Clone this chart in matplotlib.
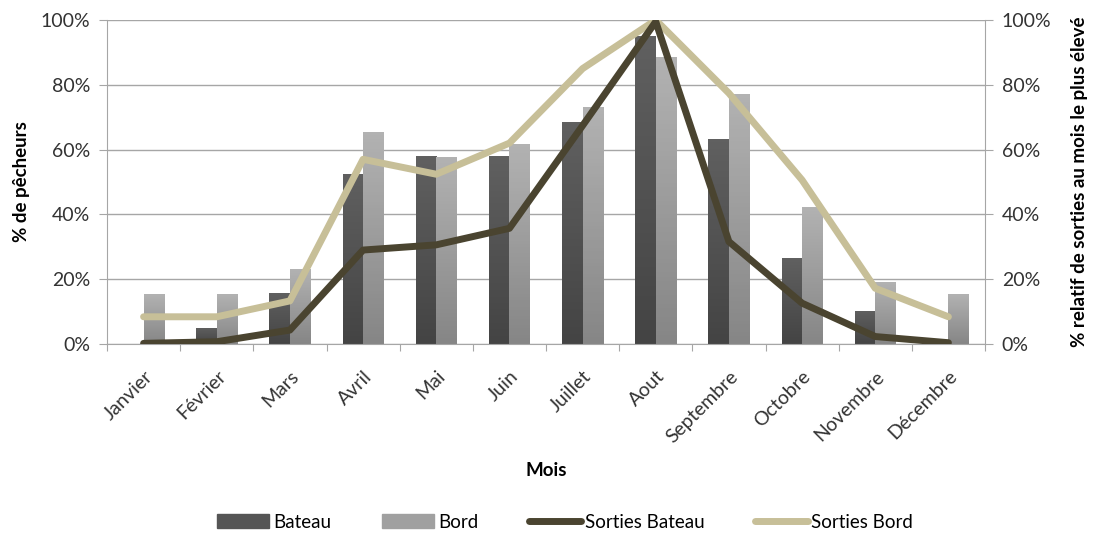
import numpy as np
import matplotlib
matplotlib.use("Agg")
import matplotlib.pyplot as plt
from matplotlib.colors import LinearSegmentedColormap
from matplotlib.ticker import FuncFormatter
from matplotlib.lines import Line2D
from matplotlib.patches import Patch

plt.rcParams['font.family'] = ['Lato', 'DejaVu Sans']

mois = ["Janvier", "Février", "Mars", "Avril", "Mai", "Juin", "Juillet",
        "Aout", "Septembre", "Octobre", "Novembre", "Décembre"]
bateau = [0, 5.0, 15.7, 52.5, 58.0, 58.0, 68.6, 95.2, 63.2, 26.4, 10.2, 0]
bord = [15.3, 15.3, 23.1, 65.3, 57.6, 61.6, 73.0, 88.5, 77.1, 42.2, 19.0, 15.3]
sorties_bateau = [0.2, 0.7, 4.3, 29.0, 30.6, 35.7, 67.4, 99.5, 31.6, 12.6, 2.3, 0.4]
sorties_bord = [8.4, 8.4, 13.3, 57.0, 52.4, 62.0, 85.0, 100.0, 77.4, 50.6, 17.2, 8.4]

fig = plt.figure(figsize=(10.98, 5.35), dpi=100)
ax = fig.add_axes([107/1098, 1 - 344/535, (985-107)/1098, (344-20)/535])
x = np.arange(len(mois))
w = 0.28

grid_c = "#a6a6a6"
txt_c = "#333333"
ax.set_ylim(0, 100)
ax.set_xlim(-0.5, len(mois) - 0.5)
ax.set_yticks(np.arange(0, 101, 20))
ax.yaxis.grid(True, color=grid_c, lw=1.0)
ax.set_axisbelow(True)

b1 = ax.bar(x - w/2, bateau, w, color="#555555", zorder=2)
b2 = ax.bar(x + w/2, bord, w, color="#a0a0a0", zorder=2)

cm_dark = LinearSegmentedColormap.from_list("d", ["#444444", "#606060"])
cm_light = LinearSegmentedColormap.from_list("l", ["#868686", "#b2b2b2"])
grad = np.linspace(0, 1, 64).reshape(-1, 1)
for bars, cm in ((b1, cm_dark), (b2, cm_light)):
    for r in bars:
        h = r.get_height()
        if h <= 0:
            continue
        x0 = r.get_x()
        im = ax.imshow(grad, cmap=cm, origin="lower", aspect="auto",
                       extent=(x0, x0 + r.get_width(), 0, h), zorder=2.5)
        im.set_clip_path(r)

ax.set_xlim(-0.5, len(mois) - 0.5)
ax.set_ylim(0, 100)

for s in ["top", "right"]:
    ax.spines[s].set_visible(False)
ax.spines["left"].set_color(grid_c)
ax.spines["bottom"].set_color(grid_c)

ax.set_xticks(np.arange(-0.5, len(mois) + 0.5, 1))
ax.set_xticklabels([])
ax.tick_params(axis="x", which="major", length=5, color=grid_c)
ax.set_xticks(x, minor=True)
ax.set_xticklabels(mois, minor=True, rotation=45, ha="right", rotation_mode="anchor",
                   fontsize=14, color=txt_c)
ax.tick_params(axis="x", which="minor", length=0, pad=17)
ax.tick_params(axis="y", length=6, color=grid_c, labelsize=14, labelcolor=txt_c, pad=6)
pct = FuncFormatter(lambda v, p: f"{int(v)}%")
ax.yaxis.set_major_formatter(pct)
ax.set_ylabel("% de pêcheurs", fontsize=13.5, fontweight="bold", labelpad=8)
ax.set_xlabel("Mois", fontsize=13.5, fontweight="bold", labelpad=12)

ax2 = ax.twinx()
ax2.set_ylim(0, 100)
ax2.set_yticks(np.arange(0, 101, 20))
ax2.yaxis.set_major_formatter(pct)
for s in ["top", "left", "bottom"]:
    ax2.spines[s].set_visible(False)
ax2.spines["right"].set_color(grid_c)
ax2.tick_params(axis="y", length=6, color=grid_c, labelsize=14, labelcolor=txt_c, pad=6)
ax2.set_ylabel("% relatif de sorties au mois le plus élevé", fontsize=13.5,
               fontweight="bold", rotation=90, labelpad=14)
c_sb = "#4a4430"
c_sd = "#c7bf98"
ax2.plot(x, sorties_bord, color=c_sd, lw=5, solid_capstyle="round", zorder=3)
ax2.plot(x, sorties_bateau, color=c_sb, lw=5, solid_capstyle="round", zorder=4)
ax2.set_xlim(-0.5, len(mois) - 0.5)

handles = [Patch(color="#555555"), Patch(color="#a0a0a0"),
           Line2D([], [], color=c_sb, lw=5, solid_capstyle="round"),
           Line2D([], [], color=c_sd, lw=5, solid_capstyle="round")]
labels = ["Bateau", "Bord", "Sorties Bateau", "Sorties Bord"]
fig.legend(handles, labels, loc="center", bbox_to_anchor=(565/1098, 1 - 522/535),
           ncol=4, frameon=False, fontsize=13.5, handlelength=2.8, handletextpad=0.2,
           columnspacing=2.7, handleheight=0.7)

fig.savefig("out.png", dpi=100)
